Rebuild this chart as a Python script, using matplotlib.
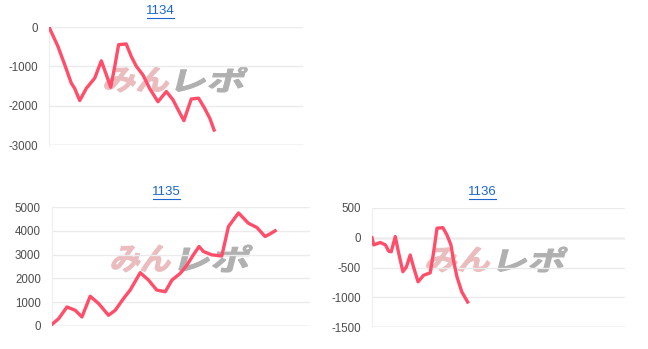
import math
import matplotlib.pyplot as plt
from matplotlib.lines import Line2D
from matplotlib.patches import PathPatch
from matplotlib.textpath import TextPath
from matplotlib.font_manager import FontProperties
from matplotlib.transforms import Affine2D

plt.rcParams['font.family'] = ['Liberation Sans', 'DejaVu Sans']

# data (x = position along the game axis, 0-100)
x1134 = [0, 3.5, 6.2, 8.8, 10.1, 12.1, 14.7, 18.0, 20.6, 22.6, 24.3, 25.9, 27.4, 30.4,
         32.4, 34.4, 37.0, 39.6, 42.9, 46.2, 48.8, 50.8, 53.1, 56.0, 58.9, 61.3, 63.3, 65.0]
y1134 = [0, -490, -960, -1430, -1560, -1870, -1560, -1300, -860, -1220, -1530, -1000, -450, -430,
         -750, -1000, -1220, -1560, -1900, -1640, -1850, -2100, -2380, -1830, -1810, -2070, -2320, -2620]

x1135 = [0, 2.6, 5.8, 9.0, 11.6, 14.8, 18.1, 21.9, 24.5, 27.7, 30.3, 34.2, 37.4, 40.6, 43.9,
         46.5, 49.7, 52.3, 54.8, 57.0, 58.7, 61.9, 65.8, 68.4, 72.3, 76.1, 79.4, 82.6, 84.5, 86.5]
y1135 = [70, 310, 800, 660, 380, 1250, 940, 450, 660, 1150, 1510, 2240, 1930, 1510, 1440,
         1930, 2210, 2560, 2990, 3340, 3130, 2990, 2940, 4180, 4750, 4320, 4140, 3760, 3870, 4000]

x1136 = [0, 0.7, 3.3, 5.3, 6.6, 7.6, 9.2, 10.5, 12.2, 13.6, 15.1, 16.4, 18.2, 20.4, 23.0,
         24.3, 25.7, 28.0, 29.6, 31.2, 32.2, 33.6, 35.5, 37.8]
y1136 = [0, -120, -80, -120, -225, -235, 20, -250, -570, -490, -290, -490, -740, -630, -590,
         -260, 160, 170, 50, -120, -380, -660, -910, -1080]

W, H = 648, 349
fig = plt.figure(figsize=(W / 100, H / 100), dpi=100)
jp = FontProperties(family='Noto Sans CJK JP', weight='bold')


def box(l, r, t, b):
    return [l / W, 1 - b / H, (r - l) / W, (b - t) / H]


def stamp(text, color, x0, x1, ytop, ybot, zorder=2):
    # slanted logo text squeezed into a pixel box
    path = TextPath((0, 0), text, size=40, prop=jp)
    ext = path.get_extents()
    h = ybot - ytop
    k = math.tan(math.radians(14))
    w = (x1 - x0) - h * k
    tr = (Affine2D().translate(-ext.x0, -ext.y0)
          .scale(w / ext.width, h / ext.height)
          .skew(math.radians(14), 0)
          .translate(x0, H - ybot))
    fig.add_artist(PathPatch(path, transform=tr, facecolor=color, edgecolor=color,
                             lw=0.8, zorder=zorder))


panels = [
    ("1134", x1134, y1134, box(49, 303, 27, 145), (-3000, 0), [-3000, -2000, -1000, 0], 160, 11,
     (103, 173, 175, 248, 67, 92)),
    ("1135", x1135, y1135, box(52, 310, 207, 326), (0, 5000), [0, 1000, 2000, 3000, 4000, 5000], 166, 192,
     (110, 175, 178, 253, 245, 272)),
    ("1136", x1136, y1136, box(372, 625, 208, 327), (-1500, 500), [-1500, -1000, -500, 0, 500], 482, 192,
     (425, 494, 497, 568, 247, 272)),
]

for name, xs, ys, pos, ylim, yticks, tx, ty, wm in panels:
    ax = fig.add_axes(pos)
    ax.set_zorder(3)
    ax.patch.set_alpha(0)
    ax.plot(xs, ys, color='#ff4d6a', lw=2.4, solid_joinstyle='round', zorder=3)
    ax.set_xlim(0, 100)
    ax.set_ylim(*ylim)
    ax.set_yticks(yticks)
    ax.set_yticklabels([str(v) for v in yticks])
    ax.set_xticks([])
    ax.grid(axis='y', color='#ebebeb', lw=1)
    if ylim[0] < 0 < ylim[1]:
        ax.axhline(0, color='#cccccc', lw=1, zorder=1)
    ax.axhline(ylim[0], color='#cccccc', lw=1, zorder=1)
    for s in ['top', 'right', 'bottom']:
        ax.spines[s].set_visible(False)
    ax.spines['left'].set_color('#eeeeee')
    ax.tick_params(axis='y', length=0, pad=8, labelsize=8.3, labelcolor='#4d4d4d')
    # watermark
    stamp('みん', '#ebbcbe', wm[0], wm[1], wm[4], wm[5])
    stamp('レポ', '#b0b0b0', wm[2], wm[3], wm[4], wm[5])
    # underlined link title
    fig.text(tx / W, 1 - ty / H, name, color='#1a66cc', fontsize=9.5, ha='center', va='center')
    fig.add_artist(Line2D([(tx - 13.5) / W, (tx + 13.5) / W], [1 - (ty + 6.5) / H] * 2,
                          color='#1a66cc', lw=0.8))

fig.savefig('out.png', dpi=100)
